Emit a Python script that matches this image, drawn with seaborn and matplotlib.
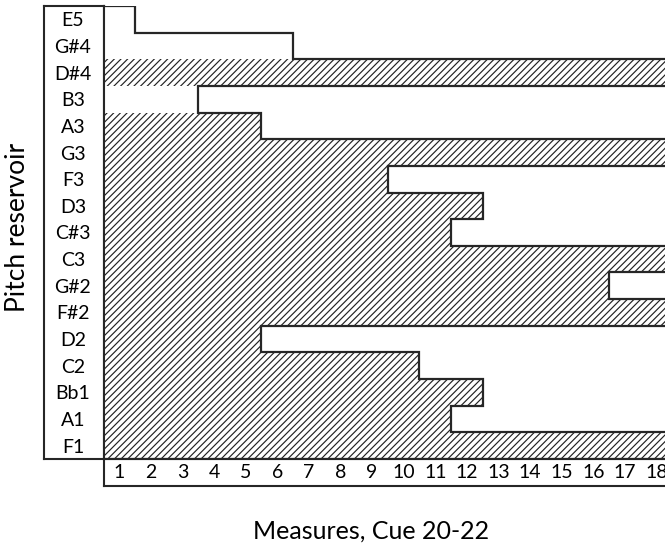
import matplotlib
matplotlib.use("Agg")
import matplotlib.pyplot as plt
import seaborn as sns
import pandas as pd

# pitch reservoir rows, top to bottom
pitches = ["E5", "G#4", "D#4", "B3", "A3", "G3", "F3", "D3", "C#3",
           "C3", "G#2", "F#2", "D2", "C2", "Bb1", "A1", "F1"]
# last measure in which each pitch is present (18 = runs off the chart)
last_measure = [1, 6, 18, 3, 5, 18, 9, 12, 11, 18, 16, 18, 5, 10, 12, 11, 18]
# hatched = pitch sounding, plain = not hatched
hatched = [False, False, True, False, True, True, True, True, True,
           True, True, True, True, True, True, True, True]
measures = list(range(1, 19))

df = pd.DataFrame({"pitch": pitches, "end": [m + 0.5 for m in last_measure]})

sns.set_theme(style="white")
plt.rcParams["font.family"] = ["Lato", "DejaVu Sans"]
plt.rcParams["hatch.linewidth"] = 0.85

W, H = 665, 546
fig = plt.figure(figsize=(W / 100, H / 100), dpi=100)

line_col = "#262626"

# box around the pitch labels
ax_lab = fig.add_axes([44 / W, 87 / H, 59.5 / W, 453 / H])
# box around the measure numbers
ax_tk = fig.add_axes([103.5 / W, 60 / H, 1.0, 27 / H])
for a in (ax_lab, ax_tk):
    a.set_xticks([])
    a.set_yticks([])
    for s in a.spines.values():
        s.set_color(line_col)
        s.set_linewidth(1.5)

ax = fig.add_axes([103.5 / W, 87 / H, 561.5 / W, 453 / H])
ax.patch.set_alpha(0)
sns.barplot(data=df, x="end", y="pitch", orient="h", width=1.0,
            color="white", errorbar=None, ax=ax)
for p, h in zip(ax.patches, hatched):
    p.set_facecolor("white")
    p.set_edgecolor("#222222")
    p.set_linewidth(0)
    if h:
        p.set_hatch("/////")

# outline around the union of the bars
n = len(pitches)
xs, ys = [0.5], [-0.5]
for i, e in enumerate(df["end"]):
    xs += [e, e]
    ys += [i - 0.5, i + 0.5]
xs.append(0.5)
ys.append(n - 0.5)
ax.plot(xs, ys, color=line_col, lw=1.6, solid_joinstyle="miter", zorder=5)

ax.set_xlim(0.5, 18.27)
ax.set_ylim(n - 0.5, -0.5)
ax.set_xticks(measures)
ax.set_xticklabels([str(m) for m in measures])
ax.tick_params(axis="x", length=0, pad=10, labelsize=14, labelcolor="black")
ax.tick_params(axis="y", length=0, pad=22, labelsize=14, labelcolor="black")
for t in ax.get_yticklabels():
    t.set_horizontalalignment("center")
for t in ax.get_xticklabels():
    t.set_verticalalignment("center")

for side in ("top", "right"):
    ax.spines[side].set_visible(False)
for side in ("left", "bottom"):
    ax.spines[side].set_color(line_col)
    ax.spines[side].set_linewidth(1.5)

ax.set_xlabel("Measures, Cue 20-22", fontsize=18, color="black", va="center")
ax.xaxis.set_label_coords((371 - 103.5) / 561.5, -(531 - 459) / 453)
ax.set_ylabel("Pitch reservoir", fontsize=19, color="black", va="center")
ax.yaxis.set_label_coords((18 - 103.5) / 561.5, (459 - 227) / 453)

fig.savefig("out.png", dpi=100)
